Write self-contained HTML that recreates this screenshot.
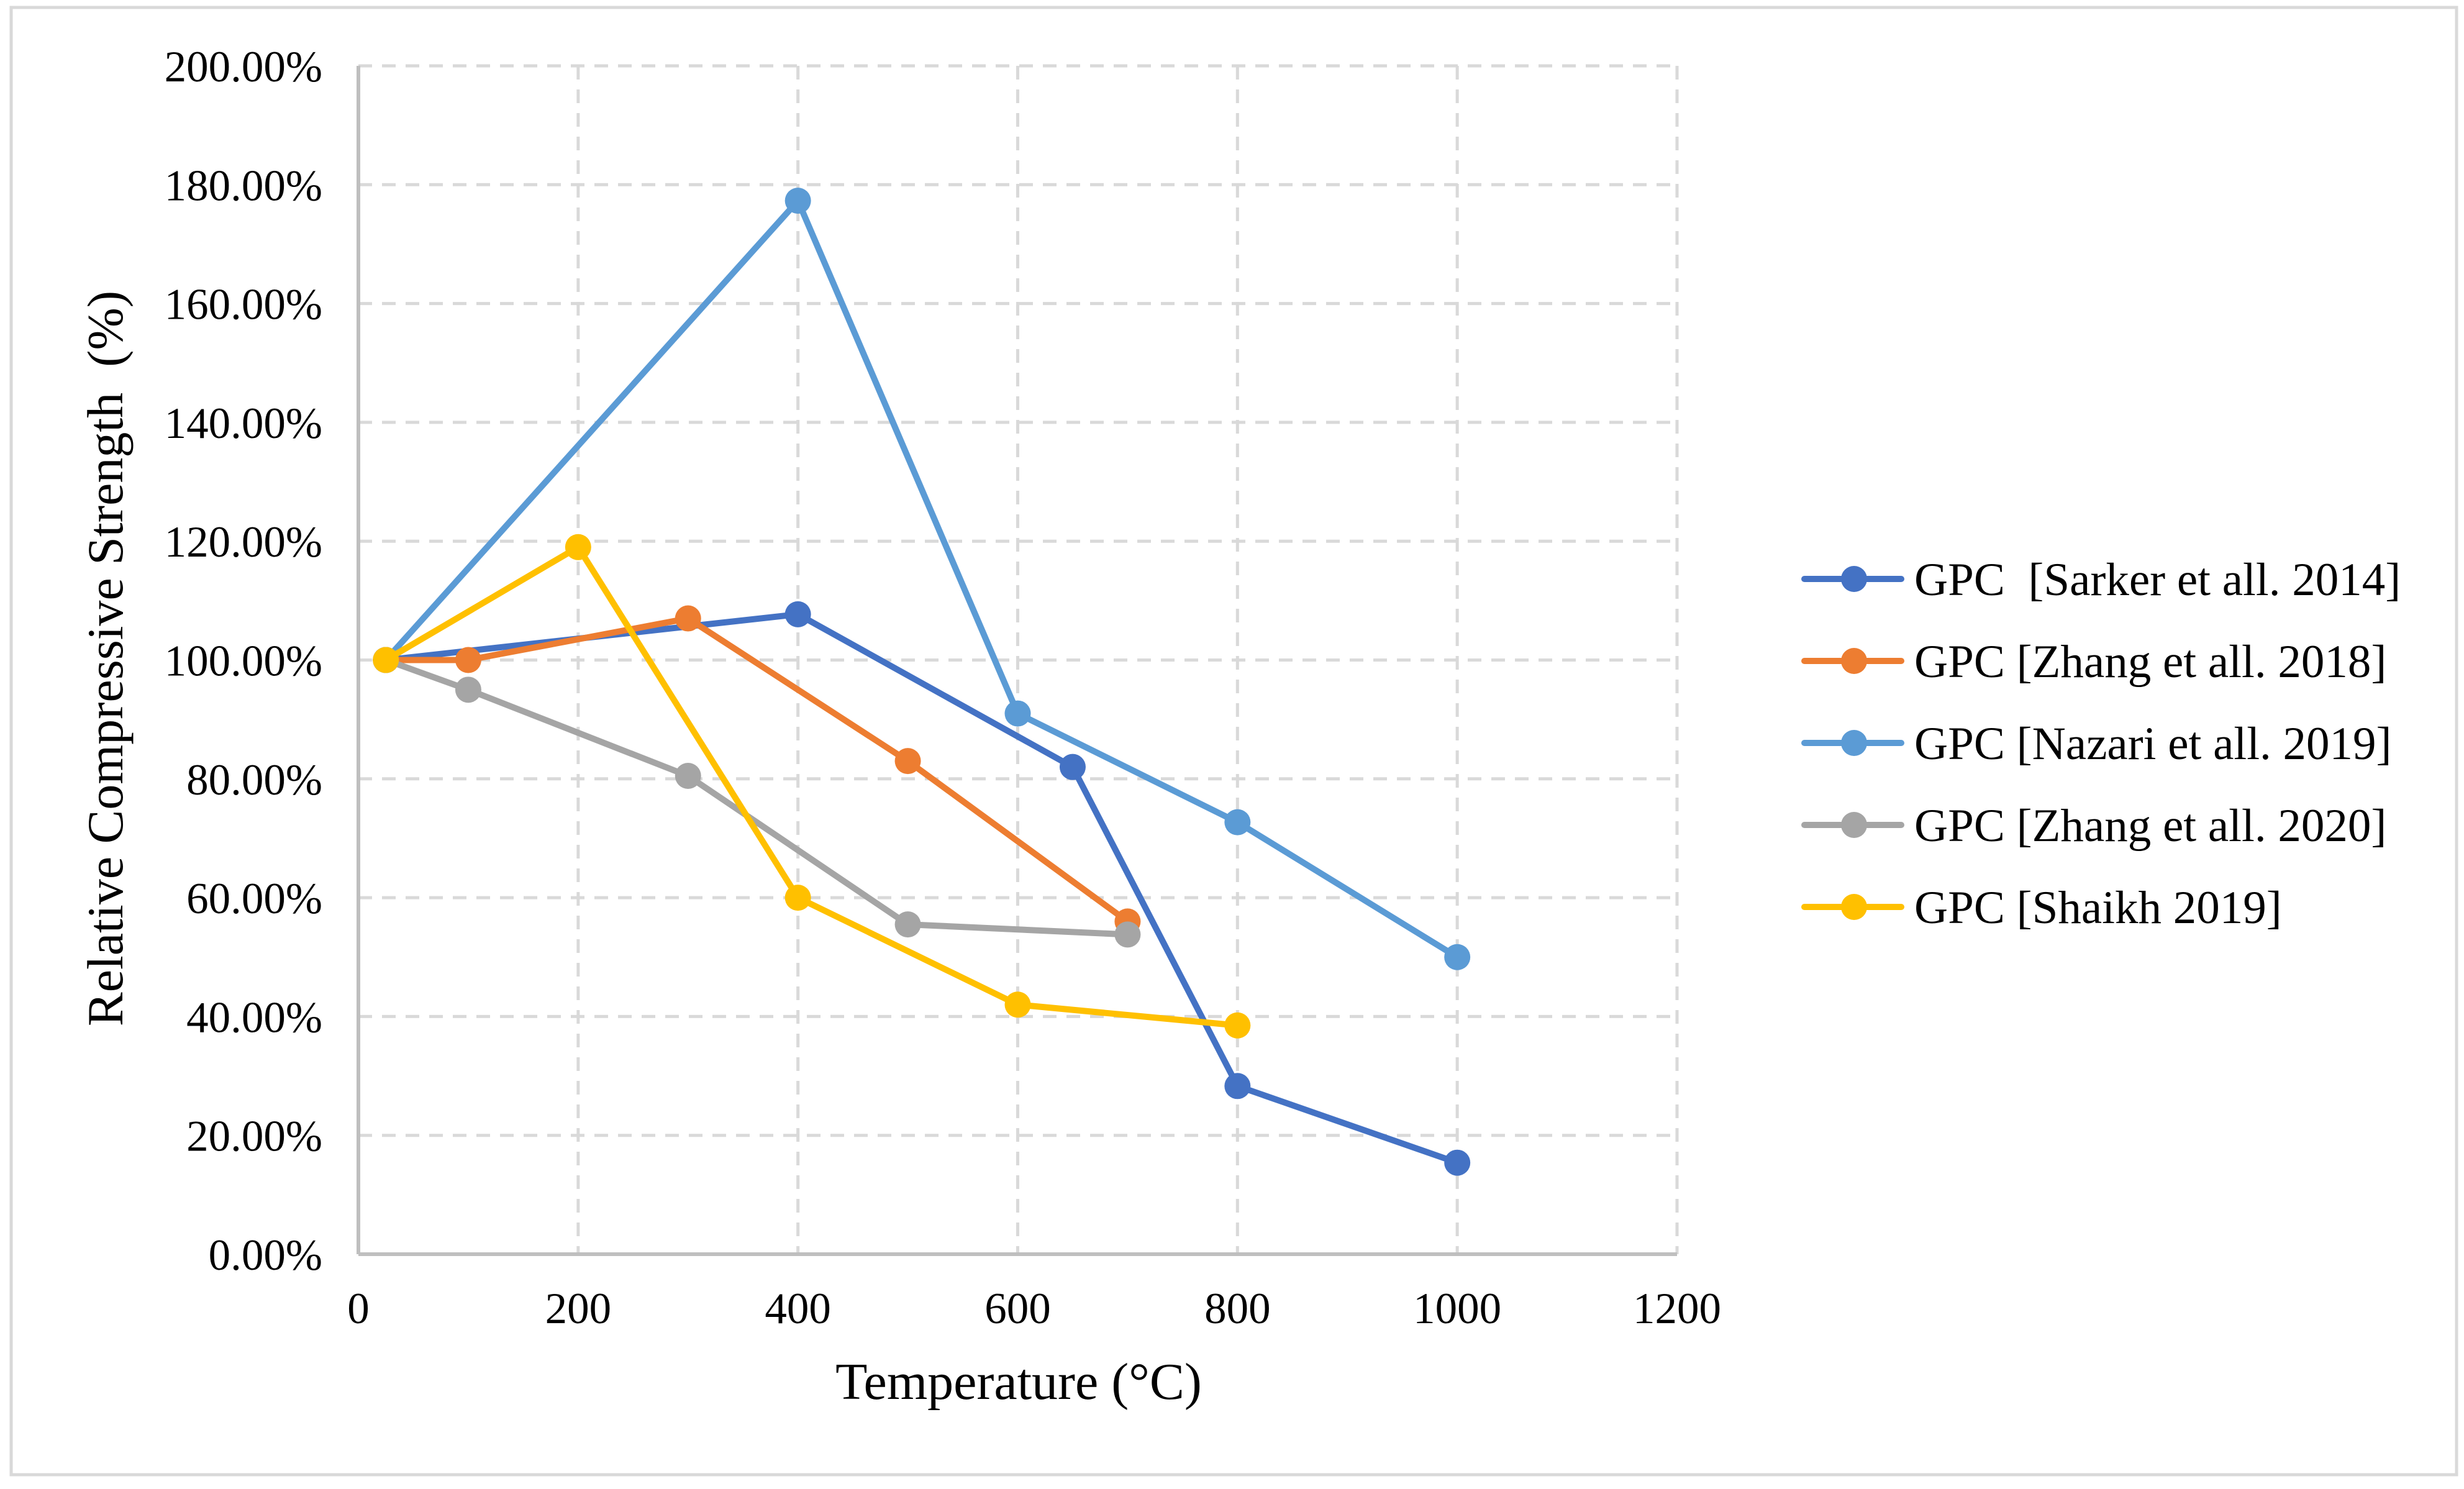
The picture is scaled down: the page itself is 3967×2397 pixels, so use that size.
<!DOCTYPE html>
<html><head><meta charset="utf-8"><style>
html,body{margin:0;padding:0;background:#fff}
svg{display:block}
text{font-family:"Liberation Serif",serif;fill:#000}
</style></head><body>
<svg id="chart" width="3967" height="2397" viewBox="0 0 3967 2397" xmlns="http://www.w3.org/2000/svg">
<rect x="18" y="12" width="3937" height="2362" fill="#fff" stroke="#d9d9d9" stroke-width="5"/>
<g id="grid"></g>
<g id="axes"></g>
<g id="series"></g>
<g id="legend"></g>
<text x="1640" y="2252" font-size="84" text-anchor="middle">Temperature (°C)</text>
<text transform="translate(197,1060) rotate(-90)" font-size="82" text-anchor="middle" style="white-space:pre">Relative Compressive Strength  (%)</text>
</svg>
<script>
const xTicks=[0,200,400,600,800,1000,1200];
const yTicks=[0,20,40,60,80,100,120,140,160,180,200];
const seriesNames=["GPC  [Sarker et all. 2014]","GPC [Zhang et all. 2018]","GPC [Nazari et all. 2019]","GPC [Zhang et all. 2020]","GPC [Shaikh 2019]"];
const seriesColors=["#4472C4","#ED7D31","#5B9BD5","#A5A5A5","#FFC000"];
const sarkerX=[25,400,650,800,1000];
const sarkerY=[100,107.7,82,28.3,15.4];
const zhang18X=[25,100,300,500,700];
const zhang18Y=[100,100,107,83,56];
const nazariX=[25,400,600,800,1000];
const nazariY=[100,177.3,91,72.7,50];
const zhang20X=[25,100,300,500,700];
const zhang20Y=[100,95,80.5,55.5,53.8];
const shaikhX=[25,200,400,600,800];
const shaikhY=[100,119,60,42,38.5];
const seriesX=[sarkerX,zhang18X,nazariX,zhang20X,shaikhX];
const seriesY=[sarkerY,zhang18Y,nazariY,zhang20Y,shaikhY];

const NS="http://www.w3.org/2000/svg";
const X0=577,X1=2700,Y0=2019,Y1=106;
const sx=v=>X0+(v-0)/(1200-0)*(X1-X0);
const sy=v=>Y0-(v-0)/(200-0)*(Y0-Y1);
function mk(tag,attrs,parent){const e=document.createElementNS(NS,tag);for(const k in attrs)e.setAttribute(k,attrs[k]);parent.appendChild(e);return e;}
const grid=document.getElementById('grid'),axes=document.getElementById('axes'),ser=document.getElementById('series'),leg=document.getElementById('legend');
xTicks.forEach(t=>{
  if(t>0){const l=mk('line',{x1:sx(t),x2:sx(t),y1:Y1,y2:Y0,stroke:'#d9d9d9','stroke-width':5,'stroke-dasharray':'22 16'},grid);
  
  }
  const tx=mk('text',{x:sx(t),y:2130,'font-size':71,'text-anchor':'middle'},axes);tx.textContent=t;
  
  
});
yTicks.forEach(t=>{
  if(t>0){const l=mk('line',{x1:X0,x2:X1,y1:sy(t),y2:sy(t),stroke:'#d9d9d9','stroke-width':5,'stroke-dasharray':'22 16'},grid);
  
  }
  const tx=mk('text',{x:519,y:sy(t)+25,'font-size':71,'text-anchor':'end'},axes);tx.textContent=t.toFixed(2)+'%';
  
  
});
const ax=mk('line',{x1:X0,x2:X1,y1:Y0,y2:Y0,stroke:'#bfbfbf','stroke-width':6},axes);


const ay=mk('line',{x1:X0,x2:X0,y1:Y1,y2:Y0,stroke:'#bfbfbf','stroke-width':6},axes);


seriesX.forEach((xs,i)=>{
  const ys=seriesY[i],c=seriesColors[i];
  const pts=xs.map((x,j)=>sx(x)+','+sy(ys[j])).join(' ');
  const pl=mk('polyline',{points:pts,fill:'none',stroke:c,'stroke-width':10,'stroke-linejoin':'round','stroke-linecap':'round'},ser);
  
  
  xs.forEach((x,j)=>{const m=mk('circle',{cx:sx(x),cy:sy(ys[j]),r:21,fill:c},ser);
    
    });
  const ly=932+i*132;
  const ll=mk('line',{x1:2905,x2:3061,y1:ly,y2:ly,stroke:c,'stroke-width':10,'stroke-linecap':'round'},leg);
  
  
  const lm=mk('circle',{cx:2985,cy:ly,r:21,fill:c},leg);
  
  
  const lt=mk('text',{x:3082,y:ly+26,'font-size':75},leg);lt.textContent=seriesNames[i];
  
  
  lt.style.whiteSpace='pre';
});
</script>
</body></html>
